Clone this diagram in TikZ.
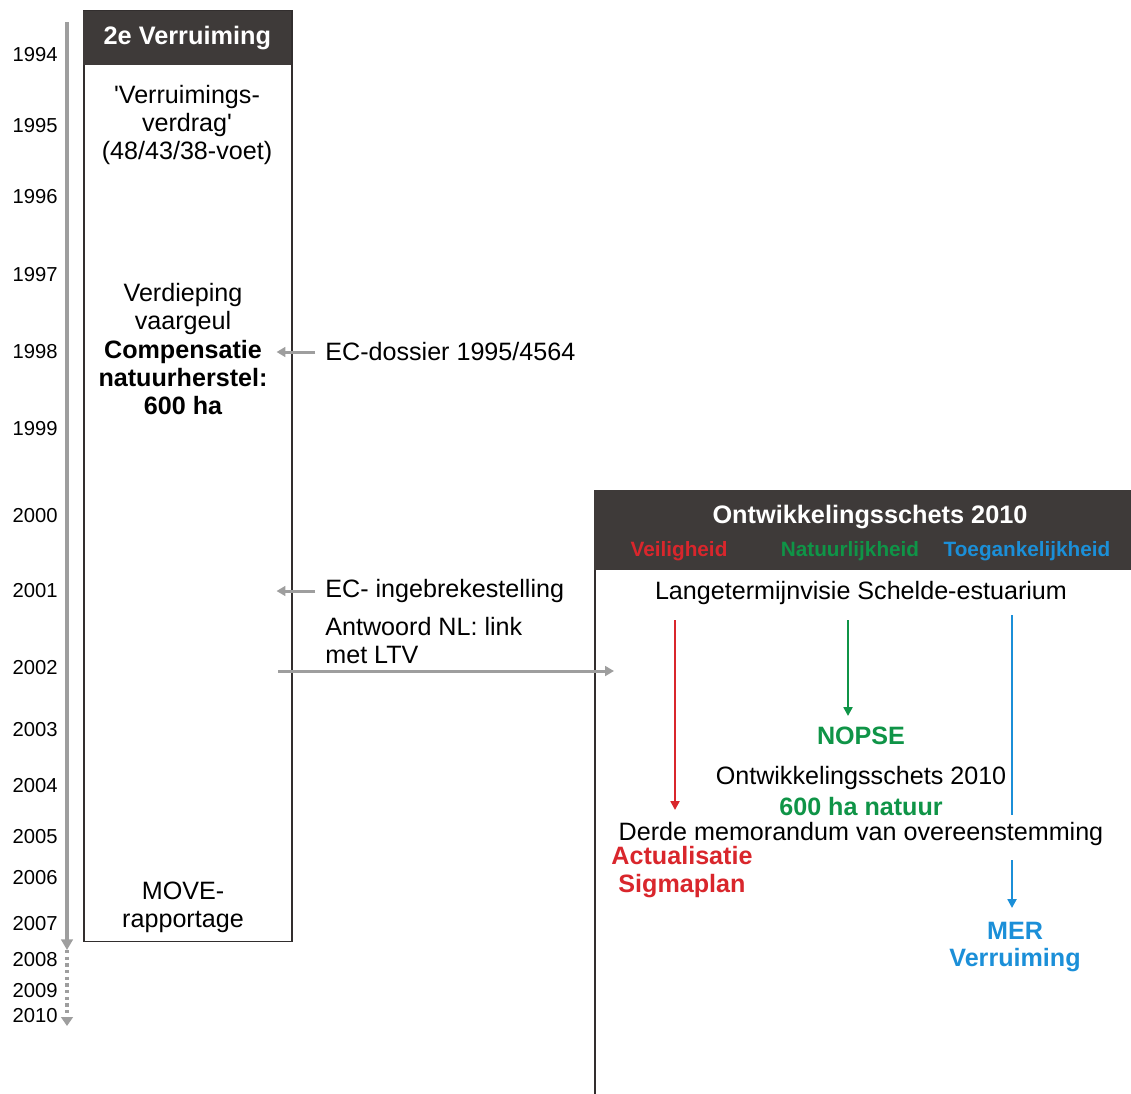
\documentclass[tikz,border=0pt]{standalone}
\usepackage{fontspec}
\setmainfont{Liberation Sans}[Ligatures=TeXOff]
\usetikzlibrary{arrows.meta,positioning}
\definecolor{hdr}{HTML}{3E3A39}
\definecolor{vred}{HTML}{D9262C}
\definecolor{ngreen}{HTML}{0F9447}
\definecolor{tblue}{HTML}{1B8FD8}
\definecolor{tgray}{HTML}{9E9E9E}

\begin{document}
\begin{tikzpicture}[x=0.02cm,y=-0.02cm,
    yr/.style={anchor=east,inner sep=0pt,font=\fontsize{11.5}{13}\selectfont},
    txt/.style={align=center,inner sep=0pt,font=\fontsize{14.3}{15.9}\selectfont},
    ltxt/.style={txt,align=left,anchor=west},
    btxt/.style={txt,font=\fontsize{14.3}{15.9}\selectfont\bfseries},
    sub/.style={inner sep=0pt,font=\fontsize{11.8}{13}\selectfont\bfseries},
    box/.style={draw=hdr!80!black,line width=0.9pt,anchor=north west,inner sep=0pt},
    hbox/.style={fill=hdr,anchor=north west,inner sep=0pt,text=white},
    garrow/.style={tgray,line width=1.7pt,-{Triangle[length=5pt,width=5.5pt]}},
    carrow/.style={line width=1.6pt,-{Triangle[length=5pt,width=5pt]}}]
    \useasboundingbox (0,0) rectangle (1131,1093);
    % time axis
    \foreach \yr/\y in {1994/55,1995/126,1996/197,1997/275,1998/352,1999/429,
        2000/516,2001/591,2002/668,2003/730,2004/786,2005/837,2006/878,
        2007/924,2008/960,2009/991,2010/1016}
        \node[yr] (y\yr) at (58,\y) {\yr};
    \coordinate (t0) at (67,22);
    \coordinate (t1) at (67,950);
    \coordinate (t2) at (67,1026);
    \draw[tgray,line width=1.8pt,-{Triangle[length=6pt,width=6.5pt]}] (t0) -- (t1);
    \draw[tgray,line width=1.8pt,dotted,-{Triangle[length=5pt,width=6.5pt]}] (t1) -- (t2);
    % left column
    \node[box,minimum width=4.16cm,minimum height=18.62cm] (verr) at (83,10) {};
    \node[hbox,minimum width=4.16cm,minimum height=1.08cm,
        font=\fontsize{14.4}{16}\selectfont\bfseries] (verrh) at (83,11) {2e Verruiming};
    \node[txt] (verdrag) at (187,125) {'Verruimings-\\verdrag'\\(48/43/38-voet)};
    \node[txt] (verdiep) at (183,309) {Verdieping\\vaargeul};
    \node[btxt,below=3pt of verdiep] (comp) {Compensatie\\natuurherstel:\\600 ha};
    \node[txt] (move) at (183,907) {MOVE-\\rapportage};
    % EC side notes
    \node[ltxt] (ecd) at (325,352) {EC-dossier 1995/4564};
    \node[ltxt] (ecing) at (325,591) {EC- ingebrekestelling};
    \node[ltxt,below=8pt of ecing.south west,anchor=north west] (antw) {Antwoord NL: link\\met LTV};
    \draw[garrow] ([xshift=-0.2cm]ecd.west) -- ([xshift=-0.32cm]verr.east |- ecd.west);
    \draw[garrow] ([xshift=-0.2cm]ecing.west) -- ([xshift=-0.32cm]verr.east |- ecing.west);
    % right column
    \node[box,minimum width=11.2cm,minimum height=12.6cm] (ontw) at (594,490) {};
    \node[hbox,minimum width=11.2cm,minimum height=1.6cm] (ontwh) at (594,490) {};
    \node[inner sep=0pt,text=white,font=\fontsize{14.4}{16}\selectfont\bfseries] (ontwt) at (870,517) {Ontwikkelingsschets 2010};
    \node[sub,text=vred] (veil) at (679,551) {Veiligheid};
    \node[sub,text=ngreen] (nat) at (850,551) {Natuurlijkheid};
    \node[sub,text=tblue] (toeg) at (1027,551) {Toegankelijkheid};
    \node[txt] (ltv) at (861,593) {Langetermijnvisie Schelde-estuarium};
    \node[btxt,text=ngreen] (nopse) at (861,736) {NOPSE};
    \node[txt] (os) at (861,778) {Ontwikkelingsschets 2010};
    \node[btxt,text=ngreen] (natuur) at (861,806) {600 ha natuur};
    \node[txt] (derde) at (861,834) {Derde memorandum van overeenstemming};
    \node[btxt,text=vred] (sigma) at (682,872) {Actualisatie\\Sigmaplan};
    \node[btxt,text=tblue] (mer) at (1015,947) {MER\\Verruiming};
    \draw[garrow] (278,671) -- ([xshift=0.4cm]ontw.west |- 0,671);
    % three tracks
    \coordinate (r0) at (675,620);
    \coordinate (g0) at (848,620);
    \coordinate (b0) at (1012,615);
    \coordinate (b1) at (1012,815);
    \coordinate (b2) at (1012,860);
    \draw[carrow,vred] (r0) -- (r0 |- 0,810);
    \draw[carrow,ngreen] (g0) -- (g0 |- 0,716);
    \draw[tblue,line width=1.6pt] (b0) -- (b1);
    \draw[carrow,tblue] (b2) -- (b2 |- 0,908);
\end{tikzpicture}
\end{document}
